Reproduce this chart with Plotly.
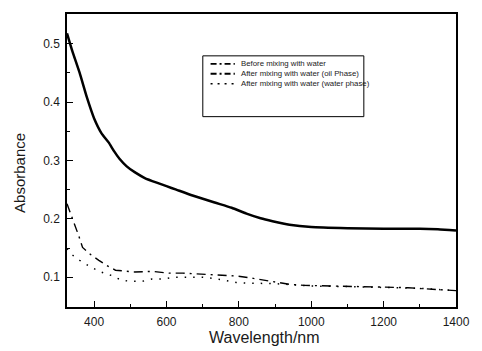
import plotly.graph_objects as go

# Data
before_x = [325, 340, 360, 380, 400, 420, 440, 455, 470, 490, 512, 540, 573, 600, 627, 672, 733, 780, 821, 860, 893, 940, 1000, 1100, 1200, 1300, 1350, 1400]
before_y = [0.518, 0.487, 0.450, 0.408, 0.372, 0.347, 0.331, 0.316, 0.303, 0.290, 0.280, 0.270, 0.262, 0.256, 0.250, 0.240, 0.228, 0.219, 0.209, 0.201, 0.196, 0.190, 0.186, 0.184, 0.183, 0.183, 0.182, 0.180]

oil_x = [325, 335, 347, 358, 368, 390, 413, 435, 459, 485, 512, 560, 608, 645, 707, 747, 795, 840, 893, 939, 981, 1035, 1088, 1141, 1205, 1267, 1320, 1373, 1400]
oil_y = [0.226, 0.210, 0.191, 0.170, 0.151, 0.139, 0.129, 0.120, 0.112, 0.110, 0.109, 0.110, 0.107, 0.107, 0.105, 0.103, 0.102, 0.098, 0.092, 0.088, 0.086, 0.085, 0.084, 0.083, 0.083, 0.082, 0.080, 0.078, 0.077]

water_x = [325, 340, 360, 392, 419, 448, 475, 501, 533, 560, 592, 619, 650, 700, 730, 760, 792, 819, 860, 900, 950, 1000, 1100, 1200, 1300, 1400]
water_y = [0.149, 0.138, 0.129, 0.117, 0.109, 0.103, 0.095, 0.093, 0.093, 0.097, 0.097, 0.100, 0.100, 0.100, 0.098, 0.095, 0.091, 0.090, 0.090, 0.089, 0.087, 0.085, 0.084, 0.083, 0.081, 0.077]

legend_labels = ["Before mixing with water",
                 "After mixing with water (oil Phase)",
                 "After mixing with water (water phase)"]

x_ticks = [400, 600, 800, 1000, 1200, 1400]
y_ticks = [0.1, 0.2, 0.3, 0.4, 0.5]

FONT = "Arial, Liberation Sans, sans-serif"
TXT = "#1a1a1a"

fig = go.Figure()
fig.add_trace(go.Scatter(x=before_x, y=before_y, mode="lines", name=legend_labels[0],
                         line=dict(color="black", width=2.5, shape="spline", smoothing=0.5),
                         showlegend=False))
fig.add_trace(go.Scatter(x=oil_x, y=oil_y, mode="lines", name=legend_labels[1],
                         line=dict(color="black", width=1.4, dash="9px,5px,2px,5px"), showlegend=False))
fig.add_trace(go.Scatter(x=water_x, y=water_y, mode="lines", name=legend_labels[2],
                         line=dict(color="black", width=1.5, dash="1.5px,7px"), showlegend=False))

# Pixel helpers for the plot area (left 67, right 468, top 13, bottom 307)
def px_x(p):
    return (p - 67) / 401.0

def px_y(p):
    return (307 - p) / 294.0

# Legend box (drawn manually to match the reference's tight spacing)
shapes = [dict(type="rect", xref="paper", yref="paper", x0=px_x(207), x1=px_x(373),
               y0=px_y(116), y1=px_y(55),
               line=dict(color="black", width=1), fillcolor="white", layer="above")]
dashes = ["6px,3px,2px,3px", "6px,3px,2px,3px", "2px,5px"]
widths = [1.6, 1.9, 1.5]
annotations = []
for i, lab in enumerate(legend_labels):
    yy = px_y(63 + 10 * i)
    shapes.append(dict(type="line", xref="paper", yref="paper",
                       x0=px_x(215), x1=px_x(240), y0=yy, y1=yy,
                       line=dict(color="black", width=widths[i], dash=dashes[i]), layer="above"))
    annotations.append(dict(xref="paper", yref="paper", x=px_x(244), y=yy,
                            xanchor="left", yanchor="middle", text=lab, showarrow=False,
                            font=dict(family=FONT, size=7.8, color=TXT)))

# Axis titles
annotations.append(dict(xref="paper", yref="paper", x=px_x(271), y=px_y(338),
                        xanchor="center", yanchor="middle", text="Wavelength/nm", showarrow=False,
                        font=dict(family=FONT, size=16, color=TXT)))
annotations.append(dict(xref="paper", yref="paper", x=px_x(18), y=px_y(172),
                        xanchor="center", yanchor="middle", text="Absorbance", showarrow=False,
                        textangle=-90, font=dict(family=FONT, size=15, color=TXT)))

fig.update_layout(
    width=482, height=351,
    margin=dict(l=67, r=14, t=13, b=44),
    paper_bgcolor="white", plot_bgcolor="white",
    font=dict(family=FONT, color=TXT),
    shapes=shapes, annotations=annotations,
    showlegend=False,
)
fig.update_xaxes(range=[325, 1400], tickvals=x_ticks, ticks="inside", ticklen=6, tickwidth=1,
                 tickcolor="black", showline=True, linecolor="black", linewidth=1.5, mirror=True,
                 showgrid=False, zeroline=False, tickfont=dict(size=12, family=FONT, color=TXT),
                 ticklabelstandoff=3,
                 minor=dict(dtick=100, tick0=0, ticks="inside", ticklen=3, tickcolor="black"))
fig.update_yaxes(range=[0.049, 0.551], tickvals=y_ticks, ticks="inside", ticklen=6, tickwidth=1,
                 tickcolor="black", showline=True, linecolor="black", linewidth=1.5, mirror=True,
                 showgrid=False, zeroline=False, tickfont=dict(size=12, family=FONT, color=TXT),
                 ticklabelstandoff=3,
                 minor=dict(dtick=0.05, tick0=0, ticks="inside", ticklen=3, tickcolor="black"))

fig.write_html("out.html")
